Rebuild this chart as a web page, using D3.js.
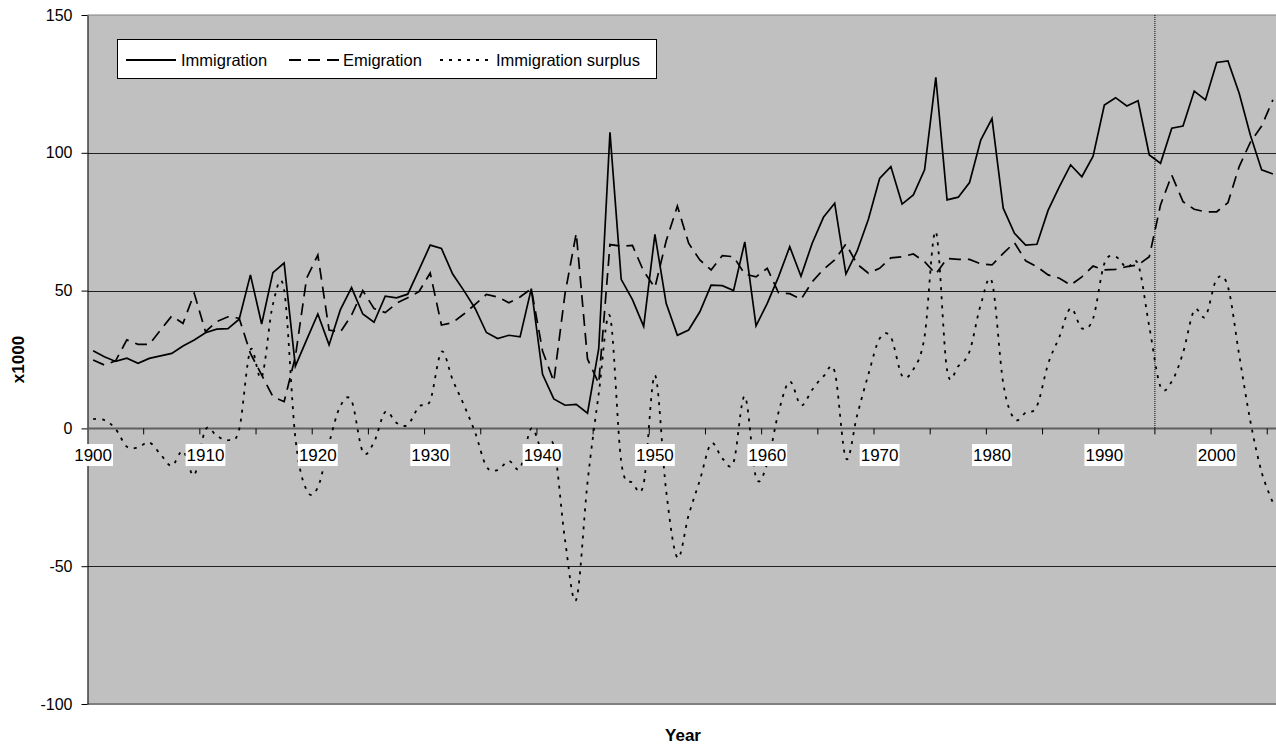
<!DOCTYPE html>
<html>
<head>
<meta charset="utf-8">
<script src="https://cdn.jsdelivr.net/npm/d3@7"></script>
<style>
  html, body { margin: 0; padding: 0; background: #fff; }
  svg { display: block; }
  text { font-family: "Liberation Sans", Arial, sans-serif; }
</style>
</head>
<body>
<svg id="chart" width="1276" height="744"></svg>
<script>
// ---- data ----
const years = d3.range(1900, 2006);

const immigration = [
  28.2, 26.0, 24.3, 25.5, 23.6, 25.4, 26.3, 27.2, 29.9, 32.1,
  34.7, 36.0, 36.2, 39.6, 55.7, 37.9, 56.5, 60.0, 22.6, 32.1,
  41.5, 30.3, 43.0, 51.1, 41.5, 38.5, 48.0, 47.4, 48.7, 57.5,
  66.5, 65.3, 56.0, 50.0, 43.5, 34.8, 32.6, 33.8, 33.2, 50.7,
  19.6, 10.7, 8.4, 8.7, 5.5, 28.9, 107.4, 54.1, 46.7, 37.0,
  70.4, 45.4, 33.8, 35.7, 42.3, 52.0, 51.8, 50.0, 67.7, 37.2,
  45.4, 55.0, 65.9, 55.2, 67.2, 76.6, 81.7, 56.0, 64.4, 75.9,
  90.7, 95.0, 81.4, 84.7, 93.8, 127.4, 82.9, 83.9, 89.2, 104.6,
  112.4, 79.9, 70.8, 66.5, 66.8, 79.2, 87.7, 95.6, 91.3, 98.8,
  117.3, 120.0, 117.0, 118.9, 99.2, 96.2, 108.9, 109.7, 122.4, 119.2,
  132.8, 133.3, 121.6, 106.4, 93.8, 92.3
];

const emigration = [
  24.8, 23.0, 24.5, 32.1, 30.5, 30.5, 35.7, 40.8, 38.1, 49.0,
  35.1, 38.7, 40.5, 40.0, 27.2, 19.4, 11.5, 9.7, 26.0, 54.5,
  62.9, 35.7, 34.9, 41.1, 50.0, 43.5, 42.0, 45.4, 47.4, 49.6,
  56.4, 37.5, 38.4, 41.5, 45.0, 48.6, 47.7, 45.6, 47.7, 50.7,
  28.1, 17.0, 48.9, 70.8, 25.2, 16.3, 66.7, 66.1, 66.4, 57.0,
  51.1, 68.0, 80.7, 67.2, 61.1, 57.5, 62.7, 62.3, 56.0, 55.0,
  58.1, 49.2, 48.9, 46.8, 53.2, 57.7, 61.1, 66.9, 59.6, 56.3,
  58.1, 61.9, 62.3, 63.3, 60.5, 56.0, 61.7, 61.3, 61.3, 59.7,
  59.3, 63.5, 67.4, 60.8, 58.7, 55.7, 54.5, 52.0, 55.0, 58.9,
  57.5, 57.7, 58.7, 59.3, 62.3, 81.1, 91.9, 82.3, 79.5, 78.6,
  78.6, 81.9, 95.0, 103.9, 109.7, 119.2
];

const surplus = [
  3.4, 3.0, -0.2, -6.6, -6.9, -5.1, -9.4, -13.6, -8.2, -16.9,
  -0.4, -2.7, -4.3, -0.4, 28.5, 18.5, 45.0, 50.3, -3.4, -22.4,
  -21.4, -5.4, 8.1, 10.0, -8.5, -5.0, 6.0, 2.0, 1.3, 7.9,
  10.1, 27.8, 17.6, 8.5, -1.5, -13.8, -15.1, -11.8, -14.5, 0.0,
  -8.5, -6.3, -40.5, -62.1, -19.7, 12.6, 40.7, -12.0, -19.7, -20.0,
  19.3, -22.6, -46.9, -31.5, -18.8, -5.5, -10.9, -12.3, 11.7, -17.8,
  -12.7, 5.8, 17.0, 8.4, 14.0, 18.9, 20.6, -10.9, 4.8, 19.6,
  32.6, 33.1, 19.1, 21.4, 33.3, 71.4, 21.2, 22.6, 27.9, 44.9,
  53.1, 16.4, 3.4, 5.7, 8.1, 23.5, 33.2, 43.6, 36.3, 39.9,
  59.8, 62.3, 58.3, 59.6, 36.9, 15.1, 17.0, 27.4, 42.9, 40.6,
  54.2, 51.4, 26.6, 2.5, -15.9, -26.9
];

const yTicks = [-100, -50, 0, 50, 100, 150];
const gridValues = [-50, 50, 100];
const xLabelYears = d3.range(1900, 2001, 10);
const markerYear = 1995;
const seriesNames = ["Immigration", "Emigration", "Immigration surplus"];

// ---- layout ----
const svg = d3.select("#chart");
const plot = { left: 87.5, top: 15, bottom: 704, right: 1278.5 };

const x = d3.scaleBand().domain(years).range([plot.left, plot.right]).padding(0);
const bw = x.bandwidth();
const cx = yr => x(yr) + bw / 2;
const y = d3.scaleLinear().domain([-100, 150]).range([plot.bottom, plot.top]);

// plot background
svg.append("rect")
  .attr("x", plot.left).attr("y", plot.top)
  .attr("width", plot.right - plot.left).attr("height", plot.bottom - plot.top)
  .attr("fill", "#c0c0c0");

// top & bottom borders
svg.append("line").attr("x1", plot.left).attr("x2", plot.right)
  .attr("y1", y(150)).attr("y2", y(150)).attr("stroke", "#808080").attr("stroke-width", 1);
svg.append("line").attr("x1", plot.left).attr("x2", plot.right)
  .attr("y1", y(-100)).attr("y2", y(-100)).attr("stroke", "#808080").attr("stroke-width", 2);

// gridlines
svg.append("g").selectAll("line").data(gridValues).join("line")
  .attr("x1", plot.left).attr("x2", plot.right)
  .attr("y1", d => Math.round(y(d)) + 0.5).attr("y2", d => Math.round(y(d)) + 0.5)
  .attr("stroke", "#202020").attr("stroke-width", 1);

// y axis
const yAxis = d3.axisLeft(y).tickValues(yTicks).tickSize(6).tickPadding(9).tickSizeOuter(0)
  .tickFormat(d => String(d));
const gy = svg.append("g").attr("transform", `translate(${plot.left},0)`).call(yAxis);
gy.select(".domain").attr("stroke", "#000");
gy.selectAll(".tick line").attr("stroke", "#000");
gy.selectAll(".tick text").attr("font-size", 16).attr("fill", "#000")
  .style("font-family", '"Liberation Sans", Arial, sans-serif');

// zero (category) axis
const y0 = y(0);
svg.append("line").attr("x1", plot.left).attr("x2", plot.right)
  .attr("y1", y0).attr("y2", y0).attr("stroke", "#606060").attr("stroke-width", 2);

// x ticks every 5 categories at boundaries
const tickYears = years.filter((d, i) => i > 0 && i % 5 === 0);
svg.append("g").selectAll("line").data(tickYears).join("line")
  .attr("x1", d => x(d)).attr("x2", d => x(d))
  .attr("y1", y0).attr("y2", y0 + 6)
  .attr("stroke", "#000").attr("stroke-width", 1);

// 1995 vertical dotted marker
svg.append("line")
  .attr("x1", x(markerYear)).attr("x2", x(markerYear))
  .attr("y1", plot.top).attr("y2", y0)
  .attr("stroke", "#000").attr("stroke-width", 1).attr("stroke-dasharray", "1,1");

// series lines
const lineStraight = d3.line().x((d, i) => cx(years[i])).y(d => y(d));
const lineSmooth = d3.line().x((d, i) => cx(years[i])).y(d => y(d)).curve(d3.curveCatmullRom.alpha(0));

const gLines = svg.append("g").attr("fill", "none").attr("stroke", "#000");
gLines.append("path").attr("d", lineSmooth(surplus))
  .attr("stroke-width", 1.8).attr("stroke-dasharray", "3,6");
gLines.append("path").attr("d", lineStraight(emigration))
  .attr("stroke-width", 1.7).attr("stroke-dasharray", "12,7");
gLines.append("path").attr("d", lineStraight(immigration))
  .attr("stroke-width", 1.7);

// category labels with white boxes
const gLab = svg.append("g");
xLabelYears.forEach(yr => {
  const g = gLab.append("g");
  const t = g.append("text")
    .attr("x", cx(yr)).attr("y", 461)
    .attr("text-anchor", "middle")
    .attr("font-size", 17).attr("fill", "#000")
    .text(yr);
  const b = t.node().getBBox();
  g.insert("rect", "text")
    .attr("x", b.x - 1).attr("y", 444)
    .attr("width", b.width + 2).attr("height", 22)
    .attr("fill", "#fff");
});

// axis titles
svg.append("text")
  .attr("x", (plot.left + plot.right) / 2).attr("y", 741)
  .attr("text-anchor", "middle").attr("font-size", 17).attr("font-weight", "bold")
  .text("Year");
svg.append("text")
  .attr("transform", `translate(24,${(plot.top + plot.bottom) / 2}) rotate(-90)`)
  .attr("text-anchor", "middle").attr("font-size", 17).attr("font-weight", "bold")
  .text("x1000");

// legend
const leg = svg.append("g");
leg.append("rect").attr("x", 117.5).attr("y", 39.5).attr("width", 539).attr("height", 39)
  .attr("fill", "#fff").attr("stroke", "#000").attr("stroke-width", 1);
const legItems = [
  { name: seriesNames[0], x1: 126, x2: 176, tx: 181, dash: null },
  { name: seriesNames[1], x1: 289, x2: 339, tx: 343, dash: "12,7" },
  { name: seriesNames[2], x1: 440, x2: 489, tx: 496, dash: "3,6" }
];
legItems.forEach(it => {
  leg.append("line").attr("x1", it.x1).attr("x2", it.x2).attr("y1", 60).attr("y2", 60)
    .attr("stroke", "#000").attr("stroke-width", 1.8)
    .attr("stroke-dasharray", it.dash);
  leg.append("text").attr("x", it.tx).attr("y", 66)
    .attr("font-size", 16.5).attr("fill", "#000").text(it.name);
});
</script>
</body>
</html>
